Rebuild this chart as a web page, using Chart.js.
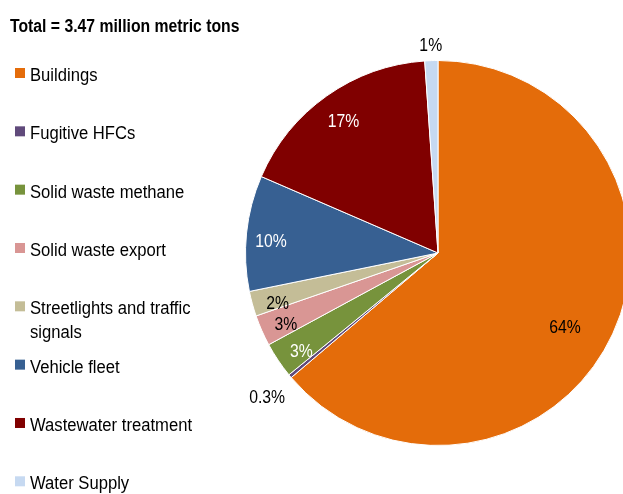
<!DOCTYPE html>
<html>
<head>
<meta charset="utf-8">
<script src="https://cdn.jsdelivr.net/npm/chart.js@4.4.1/dist/chart.umd.min.js"></script>
<style>
  html, body { margin: 0; padding: 0; background: #fff; overflow: hidden; }
  #wrap { width: 623px; height: 494px; overflow: hidden; position: relative; }
  canvas { display: block; }
</style>
</head>
<body>
<div id="wrap"><canvas id="c" width="640" height="494"></canvas></div>
<script>
// data
const title = 'Total = 3.47 million metric tons';
const categories = ['Buildings', 'Fugitive HFCs', 'Solid waste methane', 'Solid waste export',
  'Streetlights and traffic signals', 'Vehicle fleet', 'Wastewater treatment', 'Water Supply'];
const shares = [63.8, 0.3, 3.0, 2.6, 2.1, 9.7, 17.4, 1.1];

// styles
const colors = ['#E46C0A', '#604A7B', '#77933C', '#D99694', '#C4BD97', '#376092', '#800000', '#C6D9F1'];
const labelColors = ['#000', '#000', '#fff', '#000', '#000', '#fff', '#fff', '#000'];
// [radius factor, angle nudge in degrees]
const labelPlace = [[0.76, 5], [1.155, 0], [0.87, -1.5], [0.87, -1], [0.87, -1.5], [0.87, -1.3], [0.85, 0], [1.09, 0]];
const FONT = '17.5px "Liberation Sans", Arial, sans-serif';
const BOLD = 'bold 17.5px "Liberation Sans", Arial, sans-serif';
// the original font is a narrow one, so squeeze Liberation a bit
const SQUEEZE_LABEL = 0.9;
const SQUEEZE_LEGEND = 0.95;

function fmt(v) {
  return (v < 1 ? v.toFixed(1) : Math.round(v)) + '%';
}

function narrowText(ctx, text, x, y, sx) {
  ctx.save();
  ctx.translate(x, y);
  ctx.scale(sx, 1);
  ctx.fillText(text, 0, 0);
  ctx.restore();
}

const sliceLabels = {
  id: 'sliceLabels',
  afterDatasetsDraw(chart) {
    const ctx = chart.ctx;
    const meta = chart.getDatasetMeta(0);
    ctx.save();
    ctx.font = FONT;
    ctx.textAlign = 'center';
    ctx.textBaseline = 'middle';
    meta.data.forEach((arc, i) => {
      const p = arc.getProps(['x', 'y', 'startAngle', 'endAngle', 'outerRadius']);
      const [k, shift] = labelPlace[i];
      const a = (p.startAngle + p.endAngle) / 2 + shift * Math.PI / 180;
      ctx.fillStyle = labelColors[i];
      narrowText(ctx, fmt(shares[i]),
        p.x + Math.cos(a) * p.outerRadius * k,
        p.y + Math.sin(a) * p.outerRadius * k + 2.5, SQUEEZE_LABEL);
    });
    ctx.restore();
  }
};

// title + legend on the left, like the excel original
const sideLegend = {
  id: 'sideLegend',
  afterDraw(chart) {
    const ctx = chart.ctx;
    ctx.save();
    ctx.fillStyle = '#000';
    ctx.textBaseline = 'alphabetic';
    ctx.font = BOLD;
    narrowText(ctx, title, 10, 31.5, SQUEEZE_LABEL);
    ctx.font = FONT;
    categories.forEach((name, i) => {
      const base = 81 + i * 58.33;
      ctx.fillStyle = colors[i];
      ctx.fillRect(15, base - 13, 10, 10);
      ctx.fillStyle = '#000';
      // simple word wrap
      const words = name.split(' ');
      let line = '', y = base;
      words.forEach(w => {
        const test = line ? line + ' ' + w : w;
        if (ctx.measureText(test).width * SQUEEZE_LEGEND > 175 && line) {
          narrowText(ctx, line, 30, y, SQUEEZE_LEGEND);
          line = w;
          y += 24;
        } else {
          line = test;
        }
      });
      narrowText(ctx, line, 30, y, SQUEEZE_LEGEND);
    });
    ctx.restore();
  }
};

new Chart(document.getElementById('c'), {
  type: 'pie',
  data: {
    labels: categories,
    datasets: [{
      data: shares,
      backgroundColor: colors,
      borderColor: '#fff',
      borderWidth: 1
    }]
  },
  options: {
    responsive: false,
    animation: false,
    events: [],
    layout: { padding: { left: 245, top: 60, right: 9, bottom: 48 } },
    plugins: {
      legend: { display: false },
      tooltip: { enabled: false }
    }
  },
  plugins: [sliceLabels, sideLegend]
});
</script>
</body>
</html>
